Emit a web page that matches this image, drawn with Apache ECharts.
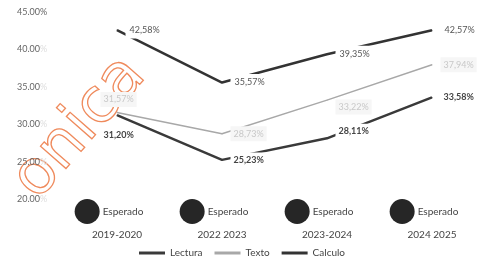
<!DOCTYPE html>
<html><head><meta charset="utf-8">
<script src="https://cdn.jsdelivr.net/npm/echarts@6/dist/echarts.min.js"></script>
<style>html,body{margin:0;padding:0;background:#fff}#c{width:484px;height:263px}</style>
</head><body><div id="c"></div>
<script>
var categories = ['2019-2020', '2022 2023', '2023-2024', '2024 2025'];
var lectura = [31.20, 25.23, 28.11, 33.58];
var texto = [31.57, 28.73, 33.22, 37.94];
var calculo = [42.58, 35.57, 39.35, 42.57];
var yTicks = [20, 25, 30, 35, 40, 45];

var FONT = 'Lato';
function pct(v){ return v.toFixed(2).replace('.', ',') + '%'; }

var chart = echarts.init(document.getElementById('c'));
chart.setOption({
  animation: false,
  textStyle: { fontFamily: FONT },
  grid: { left: 117, right: 52, top: 12, bottom: 64 },
  graphic: [{
    type: 'text', x: 80, y: 128, rotation: 0.85, z: 0,
    style: { text: 'onica', font: '62px "DejaVu Sans"', fill: 'none', stroke: '#ef8a5c', lineWidth: 1.3, align: 'center', verticalAlign: 'middle' }
  }],
  xAxis: {
    type: 'category', data: categories, boundaryGap: false,
    axisLine: { show: false }, axisTick: { show: false }, splitLine: { show: false },
    axisLabel: {
      margin: 0, interval: 0,
      formatter: function (v) { return '{c|}{e|Esperado}{s|}\n{y|' + v + '}'; },
      rich: {
        c: { width: 25, height: 25, borderRadius: 13, backgroundColor: '#262626' },
        e: { fontSize: 10, color: '#444', padding: [0, 0, 0, 3], fontFamily: FONT },
        s: { width: 16 },
        y: { fontSize: 10, color: '#444', padding: [8, 0, 0, 0], fontFamily: FONT, lineHeight: 14 }
      }
    }
  },
  yAxis: {
    type: 'value', min: yTicks[0], max: yTicks[yTicks.length - 1], interval: 5,
    axisLine: { show: false }, axisTick: { show: false }, splitLine: { show: false },
    axisLabel: {
      align: 'left', margin: 100,
      formatter: function (v) {
        return v === yTicks[yTicks.length - 1] ? '{a|' + v.toFixed(2) + '%}' : '{a|' + v.toFixed(2) + '}{b|%}';
      },
      rich: { a: { fontSize: 9, color: '#666', fontFamily: FONT }, b: { fontSize: 9, color: '#ddd' } }
    }
  },
  legend: {
    bottom: 0, left: 'center', itemWidth: 26, itemHeight: 3, itemGap: 12,
    icon: 'rect', textStyle: { fontSize: 10, color: '#444', fontFamily: FONT },
    data: ['Lectura', 'Texto', 'Calculo']
  },
  series: [
    {
      name: 'Lectura', type: 'line', data: lectura, symbol: 'circle', symbolSize: 1, showSymbol: true, z: 3,
      lineStyle: { color: '#3a3a3a', width: 2.5 }, itemStyle: { color: '#3a3a3a' },
      label: {
        show: true, formatter: function (p) { return pct(p.value); },
        fontSize: 9, fontWeight: 'bold', color: '#444', backgroundColor: '#fff', padding: [3, 3],
        position: 'right', distance: 8
      },
      labelLayout: function (p) {
        if (p.dataIndex === 0) return { dy: 20, dx: -25 };
        if (p.dataIndex === 2) return { dy: -7 };
        return {};
      }
    },
    {
      name: 'Texto', type: 'line', data: texto, symbol: 'circle', symbolSize: 1, showSymbol: true, z: 2,
      lineStyle: { color: '#a8a8a8', width: 1.5 }, itemStyle: { color: '#a8a8a8' },
      label: {
        show: true, formatter: function (p) { return pct(p.value); },
        fontSize: 9, color: '#c8c8c8', backgroundColor: '#f6f6f6', padding: [3, 3],
        position: 'right', distance: 8
      },
      labelLayout: function (p) {
        if (p.dataIndex === 0) return { dy: -13, dx: -25 };
        if (p.dataIndex === 2) return { dy: 7 };
        return {};
      }
    },
    {
      name: 'Calculo', type: 'line', data: calculo, symbol: 'circle', symbolSize: 1, showSymbol: true, z: 3,
      lineStyle: { color: '#333', width: 2.5 }, itemStyle: { color: '#333' },
      label: {
        show: true, formatter: function (p) { return pct(p.value); },
        fontSize: 9, color: '#555', backgroundColor: '#fff', padding: [4, 4],
        position: 'right', distance: 8
      }
    }
  ]
});
</script></body></html>
